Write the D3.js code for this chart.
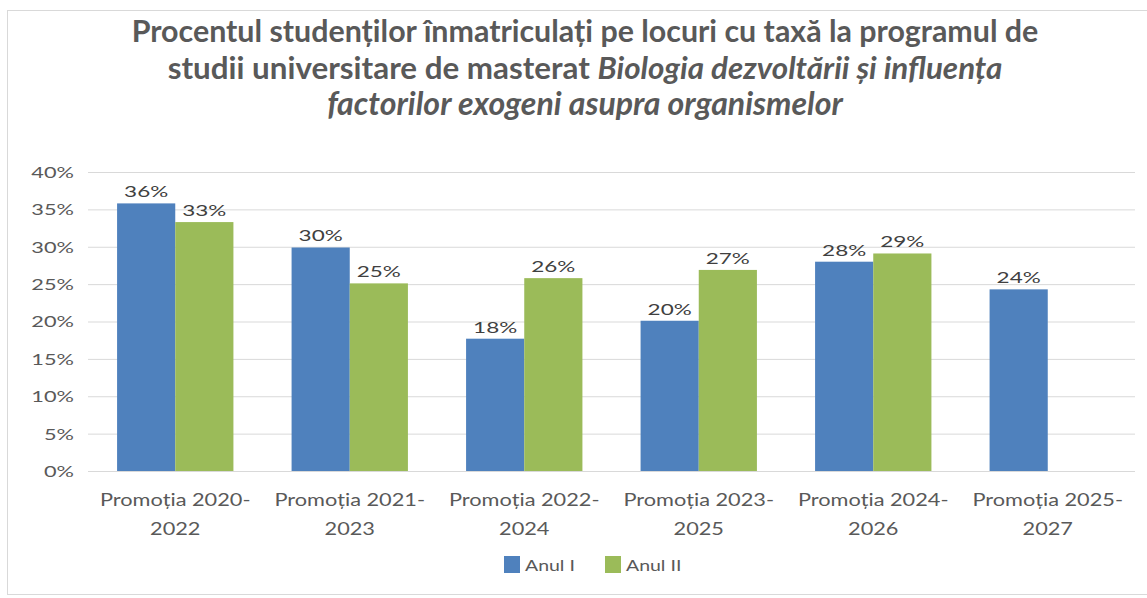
<!DOCTYPE html>
<html>
<head>
<meta charset="utf-8">
<script src="https://cdn.jsdelivr.net/npm/d3@7"></script>
<style>
  body { margin: 0; background: #fff; }
</style>
</head>
<body>
<div id="chart"></div>
<script>
const categories = [
  ['Promoția 2020-', '2022'],
  ['Promoția 2021-', '2023'],
  ['Promoția 2022-', '2024'],
  ['Promoția 2023-', '2025'],
  ['Promoția 2024-', '2026'],
  ['Promoția 2025-', '2027']
]
const seriesNames = ['Anul I', 'Anul II']
const anulI = [35.8, 29.9, 17.7, 20.1, 28.0, 24.3]
const anulII = [33.3, 25.1, 25.8, 26.9, 29.1, null]
const yTicks = [0, 5, 10, 15, 20, 25, 30, 35, 40]
const titleLines = [
  [{ t: 'Procentul studenților înmatriculați pe locuri cu taxă la programul de', i: false }],
  [{ t: 'studii universitare de masterat ', i: false }, { t: 'Biologia dezvoltării și influența', i: true }],
  [{ t: 'factorilor exogeni asupra organismelor', i: true }]
]
const colors = ['#4f81bd', '#9bbb59']

const W = 1147
const H = 598
const margin = { top: 172, right: 12, bottom: 127, left: 88 }

const svg = d3.select('#chart')
  .append('svg')
  .attr('width', W)
  .attr('height', H)
  .style('font-family', 'Lato, "Open Sans", sans-serif')

// chart area border
svg.append('rect')
  .attr('x', 7.5)
  .attr('y', 10.5)
  .attr('width', W + 10)
  .attr('height', H - 14)
  .attr('fill', 'none')
  .attr('stroke', '#d9d9d9')

const width = W - margin.left - margin.right
const height = H - margin.top - margin.bottom

const x0 = d3.scaleBand().domain(d3.range(categories.length)).range([0, width]).paddingInner(1 / 3).paddingOuter(1 / 6)
const x1 = d3.scaleBand().domain([0, 1]).range([0, x0.bandwidth()])
const y = d3.scaleLinear().domain([0, 40]).range([height, 0])

const g = svg.append('g').attr('transform', `translate(${margin.left},${margin.top})`)

// title, font size set so each line gets the width it has in the picture
const titleWidths = [907, 835, 516]
const titleBase = [42, 78.5, 115]
titleLines.forEach((line, li) => {
  const t = svg.append('text')
    .attr('x', 585)
    .attr('y', titleBase[li])
    .attr('text-anchor', 'middle')
    .attr('fill', '#595959')
    .attr('font-size', 25)
    .attr('font-weight', 'bold')
  line.forEach(p => {
    t.append('tspan').text(p.t).attr('font-style', p.i ? 'italic' : 'normal')
  })
  const w = t.node().getComputedTextLength()
  if (w > 0) t.attr('font-size', 25 * titleWidths[li] / w)
})

// the small texts in the picture are wider than normal, so they get stretched sideways
const SY = 1.45
g.append('g')
  .call(d3.axisLeft(y).tickValues(yTicks).tickSize(-width).tickFormat(d => d + '%'))
  .call(a => a.select('.domain').remove())
  .call(a => a.selectAll('.tick line').attr('stroke', '#d9d9d9'))
  .call(a => a.selectAll('.tick text')
    .attr('x', -14 / SY)
    .attr('dy', '0.36em')
    .attr('transform', `scale(${SY},1)`)
    .attr('fill', '#595959')
    .attr('font-size', 15)
    .style('font-family', 'Lato, sans-serif'))

const groups = g.selectAll('.grp')
  .data(categories.map((c, i) => i))
  .join('g')
  .attr('transform', i => `translate(${x0(i)},0)`)

const barData = i => [anulI[i], anulII[i]].map((v, s) => ({ v, s })).filter(d => d.v != null)

groups.selectAll('rect')
  .data(barData)
  .join('rect')
  .attr('x', d => x1(d.s))
  .attr('y', d => y(d.v))
  .attr('width', x1.bandwidth())
  .attr('height', d => height - y(d.v))
  .attr('fill', d => colors[d.s])

groups.selectAll('.lbl')
  .data(barData)
  .join('text')
  .attr('class', 'lbl')
  .attr('transform', d => `translate(${x1(d.s) + x1.bandwidth() / 2},${y(d.v) - 6}) scale(1.5,1)`)
  .attr('text-anchor', 'middle')
  .attr('fill', '#404040')
  .attr('font-size', 15)
  .text(d => Math.round(d.v) + '%')

// x axis
g.append('line')
  .attr('x1', 0).attr('x2', width)
  .attr('y1', height + 0.5).attr('y2', height + 0.5)
  .attr('stroke', '#d9d9d9')

const xl = g.append('g')
categories.forEach((c, i) => {
  c.forEach((line, k) => {
    xl.append('text')
      .attr('transform', `translate(${x0(i) + x0.bandwidth() / 2},${height + 35 + k * 29}) scale(1.28,1)`)
      .attr('text-anchor', 'middle')
      .attr('fill', '#595959')
      .attr('font-size', 17)
      .text(line)
  })
})

// legend
const legend = svg.append('g').attr('transform', 'translate(504,556)')
const itemX = [0, 101]
seriesNames.forEach((n, i) => {
  const it = legend.append('g').attr('transform', `translate(${itemX[i]},0)`)
  it.append('rect').attr('width', 16).attr('height', 17).attr('fill', colors[i])
  it.append('text')
    .attr('transform', 'translate(21,15) scale(1.3,1)')
    .attr('fill', '#595959')
    .attr('font-size', 15)
    .text(n)
})
</script>
</body>
</html>
